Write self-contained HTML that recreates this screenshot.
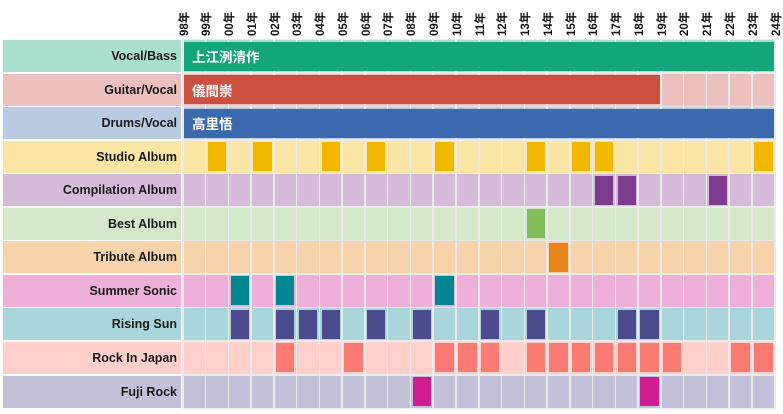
<!DOCTYPE html>
<html><head><meta charset="utf-8"><style>
body{margin:0;width:783px;height:414px;background:#fff;position:relative;overflow:hidden;font-family:"Liberation Sans","Noto Sans CJK JP",sans-serif;}
div{position:absolute;box-sizing:border-box;}
.lab{left:3px;width:178px;text-align:right;padding-right:4px;font-weight:bold;font-size:12.5px;color:#1a1a1a;display:flex;align-items:center;justify-content:flex-end;}
.yr{font-weight:bold;font-size:11.5px;color:#111;transform:rotate(-90deg);transform-origin:left top;white-space:nowrap;}
.bar{color:#fff;font-weight:bold;font-size:13.5px;padding-left:8px;display:flex;align-items:center;}
</style></head><body>
<div id="root"></div>
<script>
const X0=182.5,W=22.77,Y0=40,H=33.55;
const yrs=["98","99","00","01","02","03","04","05","06","07","08","09","10","11","12","13","14","15","16","17","18","19","20","21","22","23","24"];
let h="";
yrs.forEach((y,i)=>{h+=`<div class="yr" style="left:${X0+i*W-7}px;top:36px">${y}年</div>`;});
const rows=[
["Vocal/Bass","#abdfcd","#abdfcd","#14a67b",[],"上江洌清作",26],
["Guitar/Vocal","#ecc1bd","#ecc1bd","#cc5040",[],"儀間崇",21],
["Drums/Vocal","#b9cae2","#b9cae2","#3b69ad",[],"高里悟",26],
["Studio Album","#fae5a5","#fae5a5","#f2b800",[1,3,6,8,11,15,17,18,25]],
["Compilation Album","#d4bbd8","#d4bbd8","#7d3c8e",[18,19,23]],
["Best Album","#d5e7c8","#d5e7c8","#7fbf5a",[15]],
["Tribute Album","#f7d3ab","#f7d3ab","#e8841a",[16]],
["Summer Sonic","#eeafd9","#eeafd9","#008791",[2,4,11]],
["Rising Sun","#a8d6da","#a8d6da","#4b4b8e",[2,4,5,6,8,10,13,15,19,20]],
["Rock In Japan","#ffcfcb","#ffcfcb","#fb7b72",[4,7,11,12,13,15,16,17,18,19,20,21,24,25]],
["Fuji Rock","#c2c1d8","#c2c1d8","#d01d91",[10,20]]];
rows.forEach((r,ri)=>{
 const t=Y0+ri*H;
 h+=`<div class="lab" style="top:${t}px;height:${H-1.5}px;background:${r[1]}">${r[0]}</div>`;
 h+=`<div style="left:${X0-0.5}px;top:${t-1}px;width:${26*W+1.5}px;height:${H+0.5}px;background:#eaeaea"></div>`;
 for(let c=0;c<26;c++){
  h+=`<div style="left:${X0+c*W+1}px;top:${t}px;width:${W-1.5}px;height:${H-1.5}px;background:${r[2]}"></div>`;
 }
 r[4].forEach(c=>{h+=`<div style="left:${X0+c*W+2.5}px;top:${t+1.5}px;width:${W-4.5}px;height:${H-4.5}px;background:${r[3]}"></div>`;});
 if(r[5]){h+=`<div class="bar" style="left:${X0+1.5}px;top:${t+1.5}px;width:${r[6]*W-2.5}px;height:${H-4.5}px;background:${r[3]}">${r[5]}</div>`;}
});
document.getElementById("root").outerHTML=h;
</script>
</body></html>
